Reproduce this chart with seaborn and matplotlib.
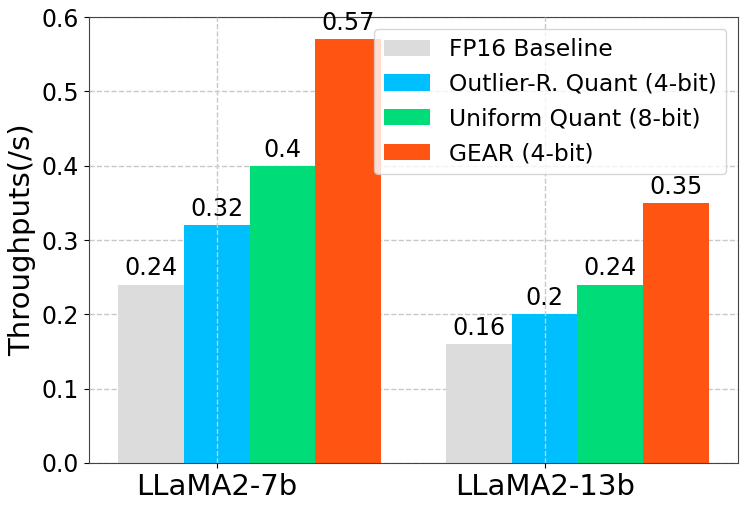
import matplotlib
matplotlib.use("Agg")
import matplotlib.pyplot as plt
import seaborn as sns
import pandas as pd

models = ["LLaMA2-7b", "LLaMA2-13b"]
methods = ["FP16 Baseline", "Outlier-R. Quant (4-bit)", "Uniform Quant (8-bit)", "GEAR (4-bit)"]
fp16 = [0.24, 0.16]
outlier = [0.32, 0.2]
uniform = [0.4, 0.24]
gear = [0.57, 0.35]
colors = ["#dcdcdc", "#00bfff", "#00dc78", "#ff5412"]

rows = []
for m, vals in zip(methods, [fp16, outlier, uniform, gear]):
    for model, v in zip(models, vals):
        rows.append({"model": model, "method": m, "value": v})
df = pd.DataFrame(rows)

plt.rcParams["font.family"] = ["DejaVu Sans"]
fig = plt.figure(figsize=(7.47, 5.08), dpi=100)
ax = fig.add_axes([0.1191, 0.0886, 0.988 - 0.1191, 0.9665 - 0.0886])

sns.barplot(data=df, x="model", y="value", hue="method", hue_order=methods,
            order=models, palette=colors, saturation=1, errorbar=None,
            width=0.8, gap=0, ax=ax, legend=True)

for c in ax.containers:
    ax.bar_label(c, fontsize=17.2, padding=3)

ax.set_xticks([-0.1, 0.9])
ax.set_xticklabels(models, fontsize=21)
ax.set_xlim(-0.49, 1.49)
ax.set_ylim(0, 0.6)
ax.set_yticks([0.0, 0.1, 0.2, 0.3, 0.4, 0.5, 0.6])
ax.tick_params(axis="y", labelsize=17)
ax.set_xlabel("")
ax.set_ylabel("Throughputs(/s)", fontsize=21)

ax.grid(True, linestyle="--", color="#c8c8c8", linewidth=1)
ax.set_axisbelow(False)
ax.yaxis.set_zorder(0.5)

for s in ax.spines.values():
    s.set_color("#444444")

handles, labels = ax.get_legend_handles_labels()
ax.legend(handles, labels, loc="upper right", fontsize=16.8)

fig.savefig("out.png", dpi=100)
